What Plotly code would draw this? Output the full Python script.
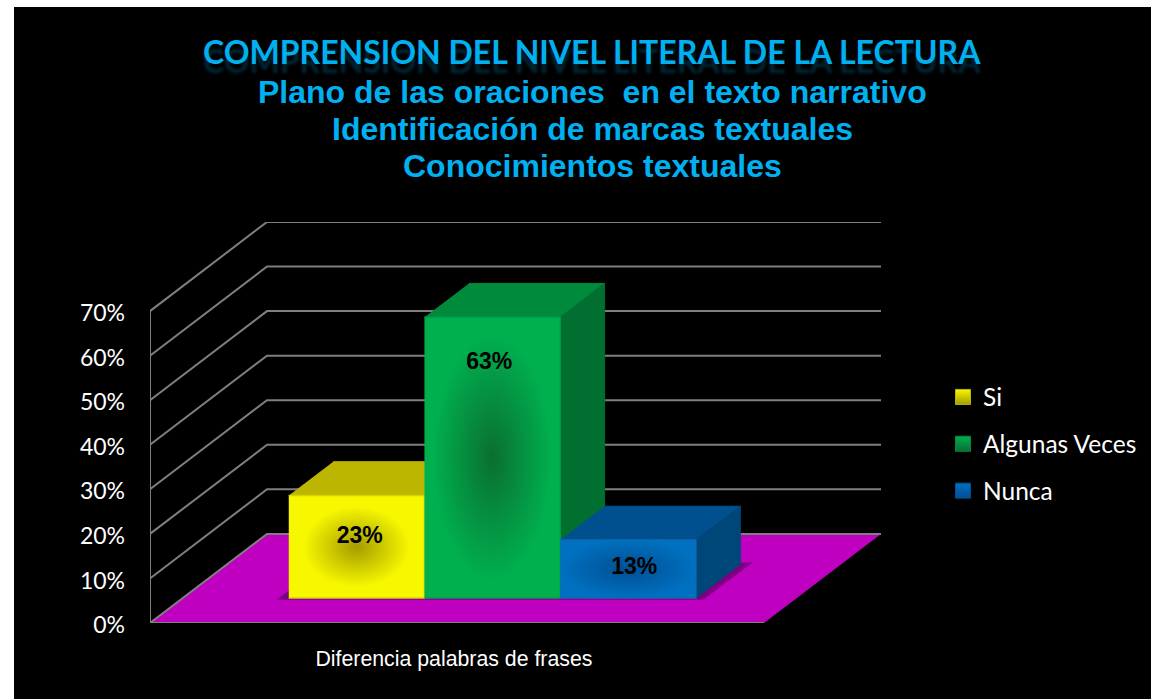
import plotly.graph_objects as go

# ---------- data ----------
category_labels = ["Diferencia palabras de frases"]
series_names = ["Si", "Algunas Veces", "Nunca"]
series_values = [23, 63, 13]
y_ticks = [0, 10, 20, 30, 40, 50, 60, 70]
y_tick_labels = ["0%", "10%", "20%", "30%", "40%", "50%", "60%", "70%"]
title_main = "COMPRENSION DEL NIVEL LITERAL DE LA LECTURA"
title_sub = ["Plano de las oraciones  en el texto narrativo",
             "Identificación de marcas textuales",
             "Conocimientos textuales"]

# ---------- style ----------
W, H = 1151, 699
ML, MR, MT, MB = 150, 270, 222, 76
FRONT_PX = 614.0
DEPTH_X = 117 / FRONT_PX     # oblique shift of the full floor depth, axis units
DEPTH_Y = 20.0               # same, in percent units
BAR_W = 135.7 / FRONT_PX
BAR_START = 106 / FRONT_PX
BAR_D0, BAR_D1 = 0.28, 0.66
GRID = "#7f7f7f"
FLOOR = "#c000c0"
faces = [
    dict(edge="#f7f700", centre="#a49c00", top="#bdb600", side="#9c9600", leg="#d8d400", mid=0.78),
    dict(edge="#00b04f", centre="#0a6f30", top="#008a3c", side="#006f30", leg="#00a04a", mid=0.88),
    dict(edge="#0070c0", centre="#004f92", top="#00508f", side="#004779", leg="#1068b8", mid=1.0),
]
label_drop = [9.4, 10.2, 6.2]   # data labels sit below each bar top, percent units
label_shift = [0.005, -0.005, 0.01]   # sideways nudge of the data labels, axis units
SANS = "Liberation Sans"
BODY = "Lato"
SUB_Y = [92, 129, 166]


def proj(x, depth, value):
    """Oblique projection of (x, depth, value) on the flat axes."""
    return x + depth * DEPTH_X, value + depth * DEPTH_Y


def poly(points, **kw):
    return go.Scatter(x=[p[0] for p in points], y=[p[1] for p in points],
                      mode="lines", fill="toself", hoverinfo="skip",
                      showlegend=False, cliponaxis=False, **kw)


fig = go.Figure()

# floor
fig.add_trace(poly([proj(0, 0, 0), proj(1, 0, 0), proj(1, 1, 0), proj(0, 1, 0)],
                   fillcolor=FLOOR, line=dict(width=0)))

# grid on the side wall and the back wall, axis and floor edge
gx, gy = [], []
for t in y_ticks:
    a, b, c = proj(0, 0, t), proj(0, 1, t), proj(1, 1, t)
    gx += [a[0], b[0], c[0], None]
    gy += [a[1], b[1], c[1], None]
a, b = proj(0, 0, y_ticks[0]), proj(0, 0, y_ticks[-1])
gx += [a[0], b[0], None, proj(0, 0, 0)[0], proj(1, 0, 0)[0]]
gy += [a[1], b[1], None, 0, 0]
fig.add_trace(go.Scatter(x=gx, y=gy, mode="lines", line=dict(color=GRID, width=2),
                         hoverinfo="skip", showlegend=False, cliponaxis=False))

# floor shadow under the bars
sx0 = BAR_START - 0.016
sx1 = BAR_START + BAR_W * len(series_values) + 0.016
fig.add_trace(poly([proj(sx0, BAR_D0 - 0.02, 0), proj(sx1, BAR_D0 - 0.02, 0),
                    proj(sx1, BAR_D1 + 0.02, 0), proj(sx0, BAR_D1 + 0.02, 0)],
                   fillcolor="rgba(70,0,80,0.55)", line=dict(width=0)))

# bars
for i, (name, v, f) in enumerate(zip(series_names, series_values, faces)):
    x0 = BAR_START + i * BAR_W
    x1 = x0 + BAR_W
    # legend entry, its point sits hidden behind the bar's front face
    cx, cy = proj((x0 + x1) / 2, BAR_D0, v / 2)
    fig.add_trace(go.Scatter(
        x=[cx], y=[cy], mode="markers", name=name, legendgroup=name,
        hoverinfo="skip", cliponaxis=False,
        marker=dict(symbol="square", size=15, color=f["edge"],
                    gradient=dict(type="vertical", color=f["centre"]),
                    line=dict(color=f["top"], width=1))))
    # top
    fig.add_trace(poly([proj(x0, BAR_D0, v), proj(x1, BAR_D0, v),
                        proj(x1, BAR_D1, v), proj(x0, BAR_D1, v)],
                       fillcolor=f["top"], line=dict(width=1, color=f["top"])))
    # right side
    fig.add_trace(poly([proj(x1, BAR_D0, 0), proj(x1, BAR_D1, 0),
                        proj(x1, BAR_D1, v), proj(x1, BAR_D0, v)],
                       fillcolor=f["side"], line=dict(width=1, color=f["side"])))
    # front
    fig.add_trace(poly([proj(x0, BAR_D0, 0), proj(x1, BAR_D0, 0),
                        proj(x1, BAR_D0, v), proj(x0, BAR_D0, v)],
                       line=dict(width=1.5, color=f["leg"]),
                       fillgradient=dict(type="radial",
                                         colorscale=[[0, f["centre"]], [f["mid"], f["edge"]], [1, f["edge"]]])))

# data labels
for i, (v, drop, shift) in enumerate(zip(series_values, label_drop, label_shift)):
    x = BAR_START + (i + 0.5) * BAR_W + shift
    lx, ly = proj(x, BAR_D0, v - drop)
    fig.add_trace(go.Scatter(x=[lx], y=[ly], mode="text", text=[f"{v}%"],
                             textposition="middle center", hoverinfo="skip",
                             showlegend=False, cliponaxis=False,
                             textfont=dict(family=SANS, size=23, color="black", weight="bold")))

plot_w = W - ML - MR
plot_h = H - MT - MB
px_x = lambda p: (p - ML) / plot_w
px_y = lambda p: (H - MB - p) / plot_h

fig.add_annotation(text=title_main, xref="paper", yref="paper", x=px_x(592), y=px_y(51),
                   xanchor="center", yanchor="middle", showarrow=False,
                   font=dict(family=BODY, size=32, color="#00b0f0", weight="bold",
                             shadow="0px 9px 3px rgba(0,176,240,0.22)"))
for line, py in zip(title_sub, SUB_Y):
    fig.add_annotation(text=line, xref="paper", yref="paper", x=px_x(592), y=px_y(py),
                       xanchor="center", yanchor="middle", showarrow=False,
                       font=dict(family=SANS, size=32, color="#00b0f0", weight="bold"))

fig.update_layout(
    width=W, height=H, autosize=False,
    margin=dict(l=ML, r=MR, t=MT, b=MB, pad=0, autoexpand=False),
    paper_bgcolor="white", plot_bgcolor="rgba(0,0,0,0)",
    xaxis=dict(range=[0, plot_w / FRONT_PX], showgrid=False, zeroline=False, showline=False,
               tickmode="array", tickvals=[0.495], ticktext=category_labels, ticks="",
               ticklabelstandoff=21, tickfont=dict(family=SANS, size=21.3, color="white"),
               fixedrange=True, automargin=False),
    yaxis=dict(range=[0, plot_h / 4.456], showgrid=False, zeroline=False, showline=False,
               tickmode="array", tickvals=y_ticks, ticktext=y_tick_labels, ticks="",
               ticklabelstandoff=24, ticklabelshift=2, tickfont=dict(family=BODY, size=23, color="white"),
               fixedrange=True, automargin=False),
    legend=dict(x=px_x(943), y=px_y(374.5), xanchor="left", yanchor="top",
                bgcolor="rgba(0,0,0,0)", font=dict(family=BODY, size=24.5, color="white"),
                tracegroupgap=12, itemclick=False, itemdoubleclick=False),
    shapes=[dict(type="rect", xref="paper", yref="paper", layer="below",
                 x0=px_x(14), x1=px_x(W + 2), y0=px_y(H + 2), y1=px_y(7),
                 fillcolor="black", line=dict(width=0))],
    showlegend=True,
)

fig.write_html("out.html", config=dict(displayModeBar=False),
               post_script="document.body.style.margin='0';document.body.style.overflow='hidden';")
